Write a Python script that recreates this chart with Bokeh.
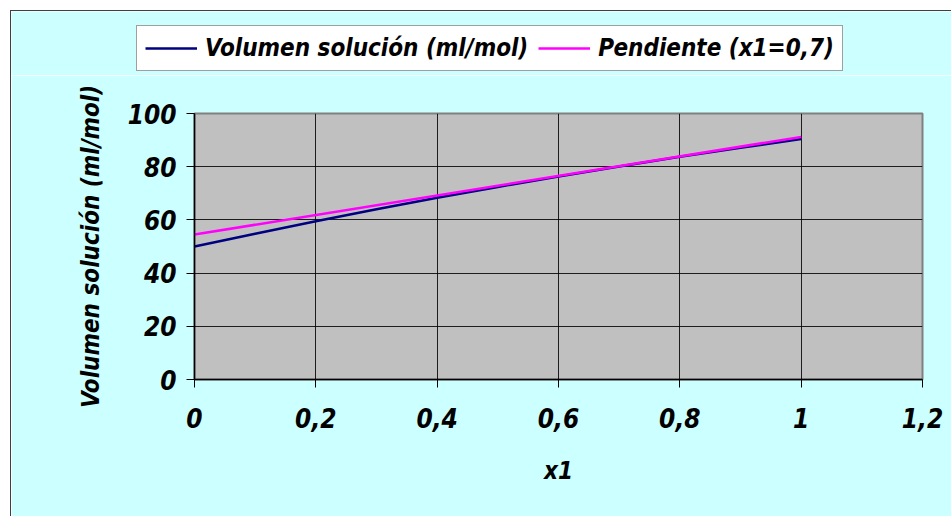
from bokeh.plotting import figure
from bokeh.layouts import column
from bokeh.models import FixedTicker, Legend, LegendItem, ColumnDataSource
from bokeh.embed import file_html
from bokeh.resources import INLINE

# Data
x1 = [0.0, 0.1, 0.2, 0.3, 0.4, 0.5, 0.6, 0.7, 0.8, 0.9, 1.0]
volumen = [50.0, 54.8, 59.5, 64.0, 68.3, 72.4, 76.3, 80.1, 83.7, 87.1, 90.4]
x_pend = [0.0, 1.0]
pendiente = [54.5, 91.2]
x_ticks = [0, 0.2, 0.4, 0.6, 0.8, 1.0, 1.2]
x_tick_labels = ["0", "0,2", "0,4", "0,6", "0,8", "1", "1,2"]
y_ticks = [0, 20, 40, 60, 80, 100]
series_names = ["Volumen solución (ml/mol)", "Pendiente (x1=0,7)"]
colors = ["#000080", "#FF00FF"]

FONT = "DejaVu Sans Condensed, Roboto"
FS = "26px"
LFS = "24px"
BG = "#CCFFFF"

src1 = ColumnDataSource(dict(x=x1, y=volumen))
src2 = ColumnDataSource(dict(x=x_pend, y=pendiente))

# ---- legend strip (top) ----
pl = figure(width=940, height=64, x_range=(0, 1), y_range=(0, 1),
            x_axis_type=None, y_axis_type=None,
            output_backend="svg", toolbar_location=None,
            min_border=0)
pl.frame_align = False
pl.background_fill_color = BG
pl.border_fill_color = BG
pl.outline_line_color = None
pl.grid.visible = False
d1 = pl.line("x", "y", source=src1, line_color=colors[0], line_width=2.5)
d2 = pl.line("x", "y", source=src2, line_color=colors[1], line_width=2.5)
legend = Legend(items=[LegendItem(label=series_names[0], renderers=[d1]),
                       LegendItem(label=series_names[1], renderers=[d2])],
                orientation="horizontal", location=(125, 4))
legend.label_text_font = FONT
legend.label_text_font_style = "bold italic"
legend.label_text_font_size = LFS
legend.label_text_color = "black"
legend.glyph_width = 52
legend.glyph_height = 20
legend.border_line_color = "#404040"
legend.border_line_width = 1.5
legend.background_fill_color = "white"
legend.background_fill_alpha = 1
legend.padding = 8
legend.spacing = 10
legend.label_standoff = 8
legend.margin = 0
pl.add_layout(legend, "center")

# ---- main plot ----
p = figure(width=940, height=441, x_range=(0, 1.2), y_range=(0, 100),
           output_backend="svg", toolbar_location=None,
           min_border_left=183, min_border_right=29, min_border_top=38,
           min_border_bottom=137)
p.frame_align = False
p.background_fill_color = "#C0C0C0"
p.border_fill_color = BG
p.outline_line_color = "#808080"
p.outline_line_width = 2

p.line("x", "y", source=src1, line_color=colors[0], line_width=2.5)
p.line("x", "y", source=src2, line_color=colors[1], line_width=2.5)

p.xaxis.ticker = FixedTicker(ticks=x_ticks)
p.xaxis.major_label_overrides = {t: l for t, l in zip(x_ticks, x_tick_labels)}
p.yaxis.ticker = FixedTicker(ticks=y_ticks)

for ax in (p.xaxis, p.yaxis):
    ax.axis_line_color = "black"
    ax.axis_line_width = 1.5
    ax.major_tick_line_color = "black"
    ax.major_tick_out = 8
    ax.major_tick_in = 0
    ax.minor_tick_line_color = None
    ax.major_label_text_font = FONT
    ax.major_label_text_font_style = "bold italic"
    ax.major_label_text_font_size = FS
    ax.major_label_text_color = "black"
    ax.axis_label_text_font = FONT
    ax.axis_label_text_font_style = "bold italic"
    ax.axis_label_text_font_size = LFS
    ax.axis_label_text_color = "black"

p.xaxis.major_label_standoff = 20
p.yaxis.major_label_standoff = 10
p.xaxis.axis_label = "x1"
p.yaxis.axis_label = series_names[0]
p.xaxis.axis_label_standoff = 26
p.yaxis.axis_label_standoff = 20

p.xgrid.ticker = FixedTicker(ticks=x_ticks)
p.ygrid.ticker = FixedTicker(ticks=y_ticks)
p.grid.grid_line_color = "black"
p.grid.grid_line_width = 1
p.grid.grid_line_alpha = 0.85

layout = column(pl, p, spacing=0)
layout.margin = (10, 0, 0, 10)
layout.styles = {"border-left": "1px solid #404040", "border-top": "1px solid #404040"}

open("out.html", "w").write(file_html(layout, INLINE))
